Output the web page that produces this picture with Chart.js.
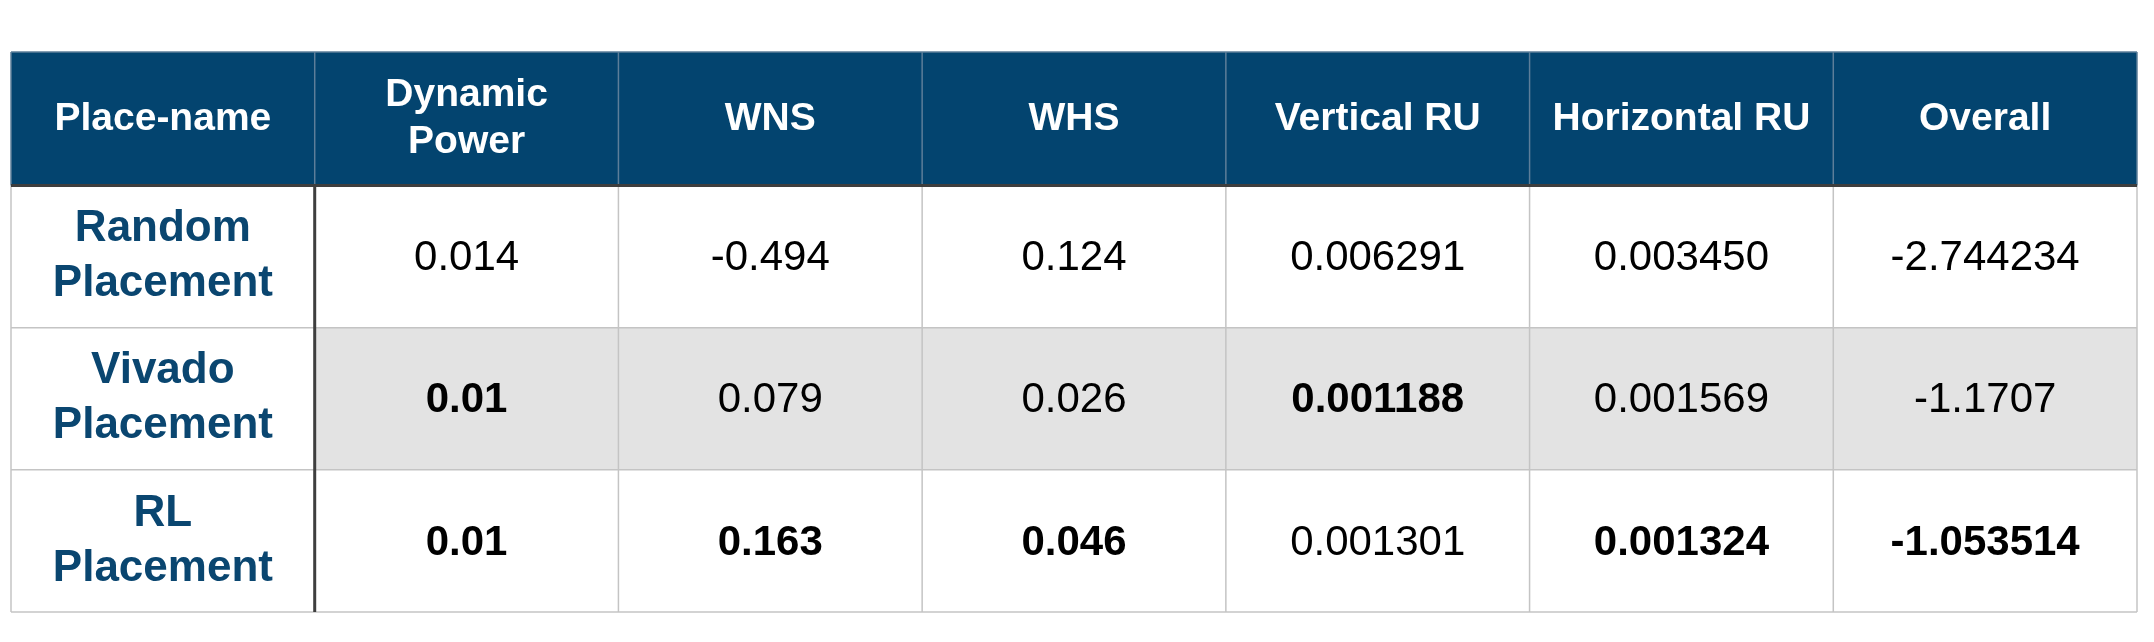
<!DOCTYPE html>
<html>
<head>
<meta charset="utf-8">
<script src="https://cdn.jsdelivr.net/npm/chart.js@4"></script>
<style>
  html, body { margin: 0; padding: 0; background: #fff; }
  #wrap { width: 2154px; height: 642px; }
</style>
</head>
<body>
<div id="wrap"><canvas id="table"></canvas></div>
<script>
// Table contents
const headers = [['Place-name'], ['Dynamic', 'Power'], ['WNS'], ['WHS'], ['Vertical RU'], ['Horizontal RU'], ['Overall']];
const rowNames = [['Random', 'Placement'], ['Vivado', 'Placement'], ['RL', 'Placement']];
const values = [
    ['0.014', '-0.494', '0.124', '0.006291', '0.003450', '-2.744234'],
    ['0.01', '0.079', '0.026', '0.001188', '0.001569', '-1.1707'],
    ['0.01', '0.163', '0.046', '0.001301', '0.001324', '-1.053514']
];
const boldCells = [
    [false, false, false, false, false, false],
    [true, false, false, true, false, false],
    [true, true, true, false, true, true]
];
const headerSpan = 0.94;   // header height in row units

const FONT = '"Liberation Sans", Arial, sans-serif';
const HEADER_BG = '#03446f';
const NAME_COLOR = '#0a4670';

const tablePlugin = {
    id: 'tableDraw',
    afterDraw(chart) {
        const ctx = chart.ctx;
        const xs = chart.scales.x, ys = chart.scales.y;
        const nCols = headers.length;
        const top = ys.getPixelForValue(rowNames.length + headerSpan);
        const hb = ys.getPixelForValue(rowNames.length);
        const left = xs.getPixelForValue(0), right = xs.getPixelForValue(nCols);
        const bottom = ys.getPixelForValue(0);
        ctx.save();
        ctx.textAlign = 'center';
        ctx.textBaseline = 'middle';

        // header
        ctx.fillStyle = HEADER_BG;
        ctx.fillRect(left, top, right - left, hb - top);
        ctx.fillStyle = '#fff';
        ctx.font = 'bold 39px ' + FONT;
        headers.forEach((lines, c) => {
            const cx = xs.getPixelForValue(c + 0.5);
            const cy = (top + hb) / 2;
            lines.forEach((t, i) => ctx.fillText(t, cx, cy + (i - (lines.length - 1) / 2) * 47));
        });

        // body
        rowNames.forEach((lines, r) => {
            const y0 = ys.getPixelForValue(rowNames.length - r);
            const y1 = ys.getPixelForValue(rowNames.length - r - 1);
            if (r === 1) {
                ctx.fillStyle = '#e3e3e3';
                ctx.fillRect(xs.getPixelForValue(1), y0, right - xs.getPixelForValue(1), y1 - y0);
            }
            const cy = (y0 + y1) / 2;
            ctx.fillStyle = NAME_COLOR;
            ctx.font = 'bold 44px ' + FONT;
            lines.forEach((t, i) => ctx.fillText(t, xs.getPixelForValue(0.5), cy + (i - 0.5) * 55));
            values[r].forEach((v, c) => {
                ctx.fillStyle = '#000';
                ctx.font = (boldCells[r][c] ? 'bold ' : '') + '42px ' + FONT;
                ctx.fillText(v, xs.getPixelForValue(c + 1.5), cy + 2);
            });
        });

        // grid
        ctx.lineWidth = 1.5;
        ctx.strokeStyle = '#c4c4c4';
        for (let r = 0; r < rowNames.length; r++) {
            const y = ys.getPixelForValue(r);
            ctx.beginPath(); ctx.moveTo(left, y); ctx.lineTo(right, y); ctx.stroke();
        }
        for (let c = 0; c <= nCols; c++) {
            const x = xs.getPixelForValue(c);
            ctx.strokeStyle = '#c4c4c4';
            ctx.beginPath(); ctx.moveTo(x, hb); ctx.lineTo(x, bottom); ctx.stroke();
            ctx.strokeStyle = '#5d7e99';
            ctx.beginPath(); ctx.moveTo(x, top); ctx.lineTo(x, hb); ctx.stroke();
        }
        ctx.strokeStyle = '#5d7e99';
        ctx.beginPath(); ctx.moveTo(left, top); ctx.lineTo(right, top); ctx.stroke();

        ctx.strokeStyle = '#3e3e3e';
        ctx.lineWidth = 3;
        ctx.beginPath(); ctx.moveTo(left, hb); ctx.lineTo(right, hb); ctx.stroke();
        const x1 = xs.getPixelForValue(1);
        ctx.beginPath(); ctx.moveTo(x1, hb); ctx.lineTo(x1, bottom); ctx.stroke();
        ctx.restore();
    }
};

new Chart(document.getElementById('table'), {
    type: 'scatter',
    data: { datasets: [{ data: [], pointRadius: 0 }] },
    options: {
        responsive: true,
        maintainAspectRatio: false,
        animation: false,
        layout: { padding: { left: 11, right: 17, top: 52, bottom: 30 } },
        scales: {
            x: { type: 'linear', min: 0, max: headers.length, display: false },
            y: { type: 'linear', min: 0, max: rowNames.length + headerSpan, display: false }
        },
        plugins: { legend: { display: false }, tooltip: { enabled: false } }
    },
    plugins: [tablePlugin]
});
</script>
</body>
</html>
